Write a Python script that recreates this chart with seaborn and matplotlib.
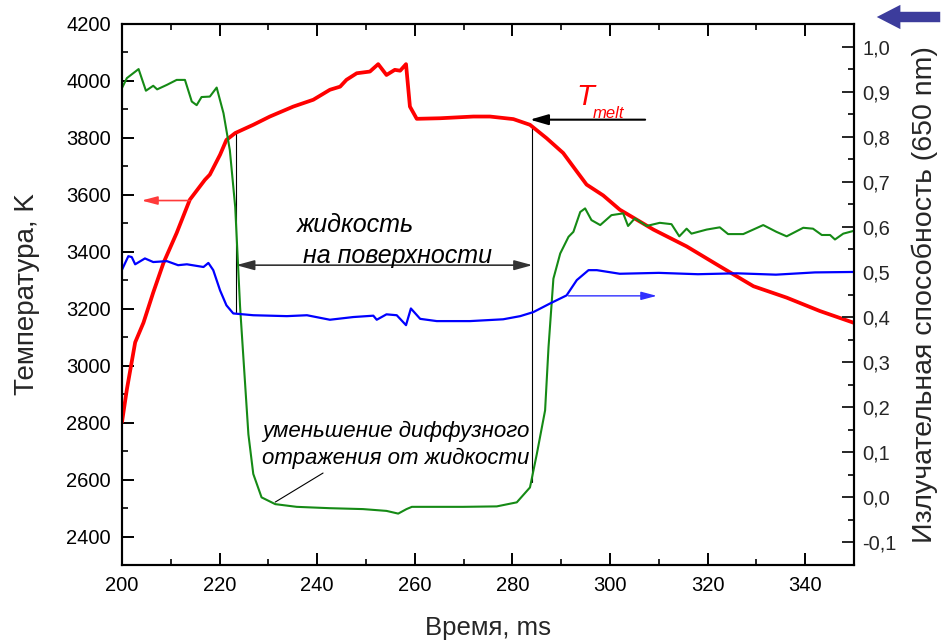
import matplotlib
matplotlib.use("Agg")
import numpy as np
import pandas as pd
import seaborn as sns
import matplotlib.pyplot as plt
from matplotlib.ticker import MultipleLocator, FuncFormatter
from matplotlib.patches import FancyArrowPatch

# ---------------- data ----------------
red_t = [200.0, 201.0, 202.7, 204.4, 206.4, 208.5, 211.2, 213.9, 217.0, 218.0, 220.1, 221.4,
         223.2, 226.9, 230.3, 235.1, 239.2, 242.6, 244.7, 246.0, 248.1, 250.8, 252.5, 254.2,
         255.9, 257.0, 258.2, 259.0, 260.4, 265.2, 272.0, 275.4, 280.2, 283.6, 287.0, 290.4,
         293.2, 295.2, 298.6, 302.0, 308.9, 315.7, 322.5, 329.4, 336.2, 343.0, 349.9]
red_T = [2802, 2917, 3082, 3151, 3257, 3361, 3466, 3583, 3653, 3671, 3741, 3793,
         3817, 3846, 3875, 3910, 3934, 3969, 3980, 4004, 4027, 4033, 4059, 4021,
         4039, 4036, 4059, 3910, 3867, 3869, 3875, 3875, 3866, 3846, 3799, 3747,
         3682, 3636, 3598, 3548, 3478, 3419, 3349, 3279, 3239, 3192, 3151]

blue_t = [200.0, 201.3, 202.0, 202.7, 204.7, 206.4, 209.2, 211.5, 213.3, 216.7, 217.7, 218.7,
          220.1, 221.4, 222.8, 226.9, 233.8, 237.9, 242.6, 247.4, 251.5, 252.2, 254.2, 256.3,
          258.2, 259.2, 261.1, 264.5, 271.3, 278.1, 281.6, 284.3, 287.7, 291.1, 293.2, 295.6,
          297.3, 302.0, 310.0, 318.0, 326.0, 334.0, 342.0, 350.0]
blue_e = [0.505, 0.535, 0.533, 0.517, 0.530, 0.522, 0.524, 0.515, 0.517, 0.511, 0.520, 0.504,
          0.459, 0.426, 0.408, 0.404, 0.402, 0.404, 0.394, 0.400, 0.403, 0.394, 0.406, 0.404,
          0.382, 0.419, 0.396, 0.391, 0.391, 0.395, 0.402, 0.411, 0.430, 0.448, 0.482, 0.504,
          0.504, 0.496, 0.498, 0.495, 0.497, 0.494, 0.499, 0.500]

green_t = [200.0, 201.0, 203.4, 204.9, 206.4, 207.2, 209.2, 211.2, 212.9, 214.3, 215.3, 216.3,
           218.0, 219.4, 220.8, 222.1, 223.2, 224.2, 225.9, 226.9, 228.6, 231.4, 235.8, 242.6,
           249.4, 254.2, 256.6, 258.3, 259.4, 262.6, 269.9, 276.8, 280.9, 283.6, 285.0, 286.7,
           287.4, 288.4, 289.8, 291.5, 292.5, 293.9, 294.9, 296.2, 298.0, 300.3, 302.7, 303.7,
           305.1, 307.5, 310.2, 312.6, 314.2, 315.7, 316.7, 319.8, 322.5, 324.2, 327.3, 331.4,
           334.1, 336.2, 339.6, 341.6, 343.4, 345.1, 346.1, 347.8, 349.9]
green_e = [0.908, 0.930, 0.950, 0.902, 0.913, 0.905, 0.915, 0.926, 0.926, 0.878, 0.870, 0.888,
           0.889, 0.909, 0.852, 0.770, 0.644, 0.422, 0.140, 0.052, 0.000, -0.015, -0.021, -0.024,
           -0.026, -0.030, -0.036, -0.026, -0.021, -0.021, -0.021, -0.020, -0.011, 0.022, 0.096, 0.193,
           0.333, 0.485, 0.541, 0.578, 0.589, 0.633, 0.641, 0.615, 0.604, 0.626, 0.630, 0.602,
           0.619, 0.602, 0.609, 0.606, 0.579, 0.596, 0.585, 0.594, 0.599, 0.584, 0.584, 0.604,
           0.589, 0.579, 0.598, 0.596, 0.582, 0.582, 0.572, 0.585, 0.591]

x_ticks = [200, 220, 240, 260, 280, 300, 320, 340]
left_ticks = [2400, 2600, 2800, 3000, 3200, 3400, 3600, 3800, 4000, 4200]
right_ticks = [-0.1, 0.0, 0.1, 0.2, 0.3, 0.4, 0.5, 0.6, 0.7, 0.8, 0.9, 1.0]

# ---------------- style ----------------
sns.set_style("ticks")
plt.rcParams['font.family'] = ['Liberation Sans', 'DejaVu Sans']
plt.rcParams['axes.linewidth'] = 1.5

W, H = 943, 642
fig = plt.figure(figsize=(W / 100, H / 100), dpi=100)
L, R, T, B = 122, 854, 24, 565
ax = fig.add_axes([L / W, 1 - B / H, (R - L) / W, (B - T) / H])
ax2 = ax.twinx()

df_red = pd.DataFrame({"t": red_t, "val": red_T})
df_blue = pd.DataFrame({"t": blue_t, "val": blue_e})
df_green = pd.DataFrame({"t": green_t, "val": green_e})

sns.lineplot(data=df_red, x="t", y="val", ax=ax, color="#ff0000", lw=2.7,
             estimator=None, sort=False, zorder=3)
sns.lineplot(data=df_green, x="t", y="val", ax=ax2, color="#158a15", lw=1.5,
             estimator=None, sort=False)
sns.lineplot(data=df_blue, x="t", y="val", ax=ax2, color="#0000ff", lw=1.6,
             estimator=None, sort=False)

ax.set_xlim(200, 350)
ax.set_ylim(2300, 4200)
ax2.set_ylim(-0.15, 1.05)

ax.set_xticks(x_ticks)
ax.set_yticks(left_ticks)
ax2.set_yticks(right_ticks)
ax.xaxis.set_minor_locator(MultipleLocator(10))
ax.yaxis.set_minor_locator(MultipleLocator(100))
ax2.yaxis.set_minor_locator(MultipleLocator(0.05))
ax2.yaxis.set_major_formatter(FuncFormatter(lambda v, p: f"{v:.1f}".replace(".", ",")))

ax.tick_params(axis="both", which="major", direction="in", length=8.5, width=1.4,
               labelsize=14.5, colors="black", pad=8)
ax.tick_params(axis="both", which="minor", direction="in", length=4.5, width=1.4)
ax.tick_params(axis="x", which="both", top=True, bottom=True)
ax.tick_params(axis="y", which="both", right=False, left=True)
ax2.tick_params(axis="y", which="major", direction="in", length=8.5, width=1.4,
                labelsize=14.5, pad=6)
ax2.tick_params(axis="y", which="minor", direction="in", length=4.5, width=1.4)

for a in (ax, ax2):
    for s in a.spines.values():
        s.set_linewidth(1.5)
        s.set_color("black")

ax.set_xlabel("Время, ms", fontsize=18.5)
ax.set_ylabel("Температура, K", fontsize=20)
ax2.set_ylabel("Излучательная способность (650 nm)", fontsize=20.5, rotation=90)
ax.xaxis.set_label_coords(0.5, (B - 628) / (B - T))
ax.xaxis.label.set_va("center")
ax.yaxis.set_label_coords((27 - L) / (R - L), 0.5)
ax.yaxis.label.set_va("center")
ax2.yaxis.set_label_coords((925 - L) / (R - L), 0.5)
ax2.yaxis.label.set_va("center")
ax2.yaxis.label.set_ha("center")

# ---------------- annotations ----------------
ital = dict(style="italic", color="black")
ax.plot([223.4, 223.4], [3187, 3818], color="black", lw=0.8, zorder=1)
ax.plot([284.1, 284.1], [2591, 3846], color="black", lw=0.8, zorder=1)
ax.annotate("", xy=(223.4, 3353), xytext=(284.1, 3353),
            arrowprops=dict(arrowstyle="<|-|>,head_length=1.1,head_width=0.3",
                            color="#333333", lw=1.2, shrinkA=0, shrinkB=0))
ax.text(235.9, 3495, "жидкость", fontsize=18, va="center", ha="left", **ital)
ax.text(237.1, 3384, "на поверхности", fontsize=18, va="center", ha="left", **ital)
ax.text(228.7, 2770, "уменьшение диффузного", fontsize=16, va="center", ha="left", **ital)
ax.text(228.7, 2675, "отражения от жидкости", fontsize=16, va="center", ha="left", **ital)
ax.plot([241.2, 231.4], [2623, 2521], color="black", lw=0.8)

# T_melt
ax.text(293.2, 3916, "T", fontsize=21, style="italic", color="#ff0000", ha="left", va="baseline")
ax.text(296.5, 3870, "melt", fontsize=12, style="italic", color="#ff0000", ha="left", va="baseline")
ax.annotate("", xy=(283.6, 3864), xytext=(307.2, 3864),
            arrowprops=dict(arrowstyle="-|>,head_length=1.1,head_width=0.32",
                            color="black", lw=1.5, shrinkA=0, shrinkB=0))

# axis-pointer arrows
ax.annotate("", xy=(204.0, 3580), xytext=(213.9, 3580),
            arrowprops=dict(arrowstyle="-|>,head_length=0.95,head_width=0.25",
                            color="#ff3a3a", lw=1.2, shrinkA=0, shrinkB=0))
ax2.annotate("", xy=(309.6, 0.447), xytext=(291.5, 0.447),
             arrowprops=dict(arrowstyle="-|>,head_length=0.95,head_width=0.25",
                             color="#3030ff", lw=1.0, shrinkA=0, shrinkB=0))

# top-right big arrow
big = FancyArrowPatch((943 / 100, (H - 17) / 100), (874 / 100, (H - 17) / 100),
                      transform=fig.dpi_scale_trans,
                      arrowstyle="simple,head_length=1.7,head_width=1.75,tail_width=0.75",
                      mutation_scale=10, color="#3c3c9c", lw=0)
fig.add_artist(big)

fig.savefig("out.png", dpi=100)
